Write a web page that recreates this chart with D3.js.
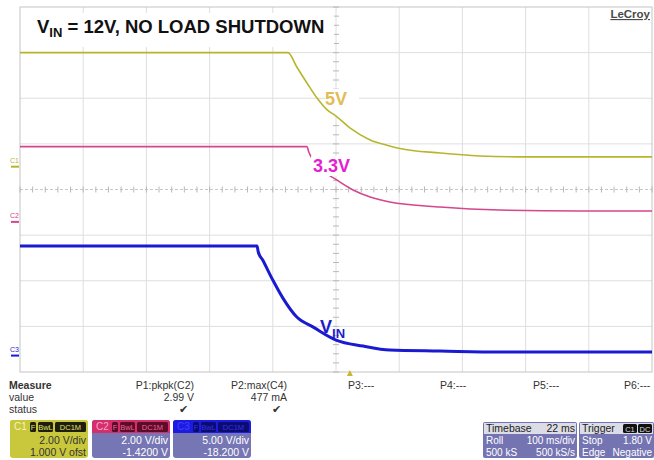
<!DOCTYPE html>
<html>
<head>
<meta charset="utf-8">
<script src="https://cdn.jsdelivr.net/npm/d3@7"></script>
<style>
  body { margin: 0; background: #fff; }
  svg text { font-family: Arial, "Liberation Sans", sans-serif; }
</style>
</head>
<body>
<div id="scope"></div>
<script>
// time in ms from the left edge of the screen (100 ms/div, 10 div)
const c1Time = [0, 424, 438, 454, 470, 486, 500, 522, 554, 585, 601, 665, 728, 791, 1000];
const c1Volts = [5.0, 5.0, 4.37, 3.67, 3.01, 2.49, 2.22, 1.70, 1.17, 0.91, 0.80, 0.60, 0.47, 0.43, 0.43];

const c2Time = [0, 454, 457, 475, 501, 527, 554, 585, 665, 759, 886, 1000];
const c2Volts = [3.3, 3.3, 3.06, 2.36, 1.84, 1.40, 1.09, 0.87, 0.65, 0.52, 0.48, 0.48];

const c3Time = [0, 375, 377, 384, 400, 416, 438, 464, 500, 543, 585, 665, 759, 1000];
const c3Volts = [12.0, 12.0, 11.35, 10.47, 8.28, 6.30, 4.22, 3.12, 1.70, 1.04, 0.60, 0.49, 0.38, 0.38];

// channel settings: volts/div and offset
const channels = [
    {name: "C1", vdiv: 2, ofst: 1.0, color: "#b8b52c", width: 1.6, time: c1Time, volts: c1Volts},
    {name: "C2", vdiv: 2, ofst: -1.42, color: "#d4468e", width: 1.6, time: c2Time, volts: c2Volts},
    {name: "C3", vdiv: 5, ofst: -18.2, color: "#1a1ad0", width: 3, time: c3Time, volts: c3Volts}
];

const triggerTime = 522;

const measureNames = ["P1:pkpk(C2)", "P2:max(C4)", "P3:---", "P4:---", "P5:---", "P6:---"];
const measureValues = ["2.99 V", "477 mA", "", "", "", ""];
const measureStatus = [true, true, false, false, false, false];

const W = 654, H = 460;
const plotL = 20, plotR = 652, plotT = 7, plotB = 372;

const svg = d3.select("#scope").append("svg")
    .attr("width", W).attr("height", H);

// divisions scales
let xDiv = d3.scaleLinear().domain([0, 10]).range([plotL, plotR]);
let yDiv = d3.scaleLinear().domain([-4, 4]).range([plotB, plotT]);
let x = d3.scaleLinear().domain([0, 1000]).range([plotL, plotR]);

// grid
let grid = svg.append("g");
d3.range(1, 10).forEach(i => {
    grid.append("line")
        .attr("x1", xDiv(i)).attr("x2", xDiv(i))
        .attr("y1", plotT).attr("y2", plotB)
        .attr("stroke", "#dedede").attr("stroke-width", 1);
});
d3.range(-3, 4).forEach(i => {
    grid.append("line")
        .attr("x1", plotL).attr("x2", plotR)
        .attr("y1", yDiv(i)).attr("y2", yDiv(i))
        .attr("stroke", i === 0 ? "#c8c8c8" : "#dedede")
        .attr("stroke-dasharray", i === 0 ? "3,2" : null)
        .attr("stroke-width", 1);
});
grid.append("rect")
    .attr("x", plotL).attr("y", plotT)
    .attr("width", plotR - plotL).attr("height", plotB - plotT)
    .attr("fill", "none").attr("stroke", "#c4c4c4");

// minor ticks on the centre axes
d3.range(0, 50.01, 1).forEach(i => {
    let xx = xDiv(i / 5);
    grid.append("line").attr("x1", xx).attr("x2", xx)
        .attr("y1", yDiv(0) - 3).attr("y2", yDiv(0) + 3)
        .attr("stroke", "#b8b8b8");
});
d3.range(0, 40.01, 1).forEach(i => {
    let yy = yDiv(-4 + i / 5);
    grid.append("line").attr("x1", xDiv(5) - 3).attr("x2", xDiv(5) + 3)
        .attr("y1", yy).attr("y2", yy)
        .attr("stroke", "#b8b8b8");
});

// white patch pasted under the 5V label (trace drawn over it)
svg.append("rect")
    .attr("x", 325).attr("y", 89).attr("width", 34).attr("height", 28)
    .attr("fill", "#fff");

// traces
channels.forEach(ch => {
    let y = d3.scaleLinear()
        .domain([-4 * ch.vdiv - ch.ofst, 4 * ch.vdiv - ch.ofst])
        .range([plotB, plotT]);
    ch.y = y;
    let pts = ch.time.map((t, i) => [t, ch.volts[i]]);
    let line = d3.line()
        .x(d => x(d[0]))
        .y(d => y(d[1]))
        .curve(d3.curveMonotoneX);
    svg.append("path")
        .datum(pts)
        .attr("d", line)
        .attr("fill", "none")
        .attr("stroke", ch.color)
        .attr("stroke-width", ch.width);

    // ground marker at the left
    let gy = y(0);
    svg.append("line")
        .attr("x1", 11).attr("x2", 19)
        .attr("y1", gy).attr("y2", gy)
        .attr("stroke", ch.color).attr("stroke-width", 2);
    svg.append("text")
        .attr("x", 10).attr("y", gy - 4)
        .attr("font-size", 7)
        .attr("fill", ch.color)
        .text(ch.name);
});

// trigger marker
let tx = x(triggerTime);
svg.append("path")
    .attr("d", `M${tx - 3},${plotB + 4}L${tx + 3},${plotB + 4}L${tx},${plotB - 2}Z`)
    .attr("fill", "#c8b830");

// title box
svg.append("rect")
    .attr("x", 22).attr("y", 13).attr("width", 312).attr("height", 34)
    .attr("fill", "#fff");
let title = svg.append("text")
    .attr("x", 37).attr("y", 33)
    .attr("font-size", 18.5).attr("font-weight", "bold").attr("fill", "#111");
title.append("tspan").text("V");
title.append("tspan").attr("font-size", 13).attr("dy", 4).text("IN");
title.append("tspan").attr("dy", -4).text(" = 12V, NO LOAD SHUTDOWN");

// LeCroy logo
svg.append("text")
    .attr("x", 650).attr("y", 18)
    .attr("text-anchor", "end")
    .attr("font-size", 11.5)
    .attr("font-weight", "bold")
    .attr("fill", "#4a4a4a")
    .attr("text-decoration", "underline")
    .text("LeCroy");

// trace labels
function traceLabel(t, cx, base, color, sub, bg) {
    let bb = svg.append("rect").attr("fill", "#fff");
    let txt = svg.append("text")
        .attr("x", cx).attr("y", base)
        .attr("font-size", 18).attr("font-weight", "bold")
        .attr("fill", color);
    txt.append("tspan").text(t);
    if (sub) txt.append("tspan").attr("font-size", 13).attr("dy", 5).text(sub);
    if (bg) {
        let b = txt.node().getBBox();
        bb.attr("x", b.x - 2).attr("y", b.y).attr("width", b.width + 4).attr("height", b.height);
    }
}
traceLabel("5V", 325, 105, "#e2bd55", null, false);
traceLabel("3.3V", 313, 172, "#e41ed2", null, true);
traceLabel("V", 320, 333, "#1c1ccc", "IN", false);

// measurement table
const meas = svg.append("g").attr("font-size", 10.5).attr("fill", "#333");
meas.append("text").attr("x", 9).attr("y", 389).attr("font-weight", "bold").text("Measure");
meas.append("text").attr("x", 9).attr("y", 401).text("value");
meas.append("text").attr("x", 9).attr("y", 413).text("status");
const measX = [194, 287, 348, 440, 533, 624];
measureNames.forEach((n, i) => {
    if (i < 2) {
        meas.append("text").attr("x", measX[i]).attr("y", 389).attr("text-anchor", "end").text(n);
        meas.append("text").attr("x", measX[i]).attr("y", 401).attr("text-anchor", "end").text(measureValues[i]);
        if (measureStatus[i]) {
            meas.append("text").attr("x", measX[i] - 6).attr("y", 413).attr("text-anchor", "end").text("\u2714");
        }
    } else {
        meas.append("text").attr("x", measX[i]).attr("y", 389).text(n);
    }
});

// channel boxes
const boxes = [
    {x: 10, name: "C1", head: "#c9c83c", tag: "#1e1e10", tagText: "#e0e060", nameColor: "#f4f4c0",
     body: "#c9c83c", bodyText: "#333", lines: ["2.00 V/div", "1.000 V ofst"]},
    {x: 92, name: "C2", head: "#d42e6c", tag: "#5c0c28", tagText: "#f06090", nameColor: "#f8a8c8",
     body: "#7676b4", bodyText: "#fff", lines: ["2.00 V/div", "-1.4200 V"]},
    {x: 173, name: "C3", head: "#1c1ce0", tag: "#0c0c70", tagText: "#3030e8", nameColor: "#4040ff",
     body: "#7676b4", bodyText: "#fff", lines: ["5.00 V/div", "-18.200 V"]}
];
boxes.forEach(b => {
    let g = svg.append("g");
    let w = 78, y0 = 420, h = 38;
    g.append("rect").attr("x", b.x).attr("y", y0).attr("width", w).attr("height", h)
        .attr("rx", 3).attr("fill", b.body);
    g.append("path")
        .attr("d", `M${b.x},${y0 + 13}V${y0 + 3}Q${b.x},${y0} ${b.x + 3},${y0}H${b.x + w - 3}Q${b.x + w},${y0} ${b.x + w},${y0 + 3}V${y0 + 13}Z`)
        .attr("fill", b.head);
    g.append("text").attr("x", b.x + 4).attr("y", y0 + 10).attr("font-size", 10)
        .attr("fill", b.nameColor).text(b.name);
    [["F", 20, 6], ["BwL", 28, 15], ["DC1M", 45, 31]].forEach(t => {
        g.append("rect").attr("x", b.x + t[1]).attr("y", y0 + 2).attr("width", t[2]).attr("height", 10)
            .attr("rx", 1.5).attr("fill", b.tag);
        g.append("text").attr("x", b.x + t[1] + t[2] / 2).attr("y", y0 + 10)
            .attr("text-anchor", "middle").attr("font-size", 7.5).attr("fill", b.tagText).text(t[0]);
    });
    b.lines.forEach((l, i) => {
        g.append("text").attr("x", b.x + w - 2).attr("y", y0 + 24 + i * 12)
            .attr("text-anchor", "end").attr("font-size", 10.5).attr("fill", b.bodyText).text(l);
    });
});

// timebase and trigger boxes
function infoBox(x0, w, head, headRight, rows, tags) {
    let g = svg.append("g");
    let y0 = 422, h = 36;
    g.append("rect").attr("x", x0).attr("y", y0).attr("width", w).attr("height", h)
        .attr("rx", 2).attr("fill", "#7474b2");
    g.append("rect").attr("x", x0 + 1).attr("y", y0 + 1).attr("width", w - 2).attr("height", 11)
        .attr("fill", "#dcdce6");
    g.append("text").attr("x", x0 + 3).attr("y", y0 + 10).attr("font-size", 10.5)
        .attr("fill", "#222").text(head);
    if (headRight) {
        g.append("text").attr("x", x0 + w - 2).attr("y", y0 + 10).attr("font-size", 10.5)
            .attr("text-anchor", "end").attr("fill", "#222").text(headRight);
    }
    (tags || []).forEach(t => {
        g.append("rect").attr("x", x0 + t[1]).attr("y", y0 + 2).attr("width", t[2]).attr("height", 9)
            .attr("rx", 1.5).attr("fill", "#111");
        g.append("text").attr("x", x0 + t[1] + t[2] / 2).attr("y", y0 + 9.5).attr("font-size", 7.5)
            .attr("text-anchor", "middle").attr("fill", "#ddd").text(t[0]);
    });
    rows.forEach((r, i) => {
        g.append("text").attr("x", x0 + 3).attr("y", y0 + 22 + i * 12).attr("font-size", 10)
            .attr("fill", "#fff").text(r[0]);
        g.append("text").attr("x", x0 + w - 2).attr("y", y0 + 22 + i * 12).attr("font-size", 10)
            .attr("text-anchor", "end").attr("fill", "#fff").text(r[1]);
    });
}
infoBox(483, 94, "Timebase", "22 ms", [["Roll", "100 ms/div"], ["500 kS", "500 kS/s"]]);
infoBox(579, 75, "Trigger", null, [["Stop", "1.80 V"], ["Edge", "Negative"]], [["C1", 44, 14], ["DC", 59, 14]]);
</script>
</body>
</html>
